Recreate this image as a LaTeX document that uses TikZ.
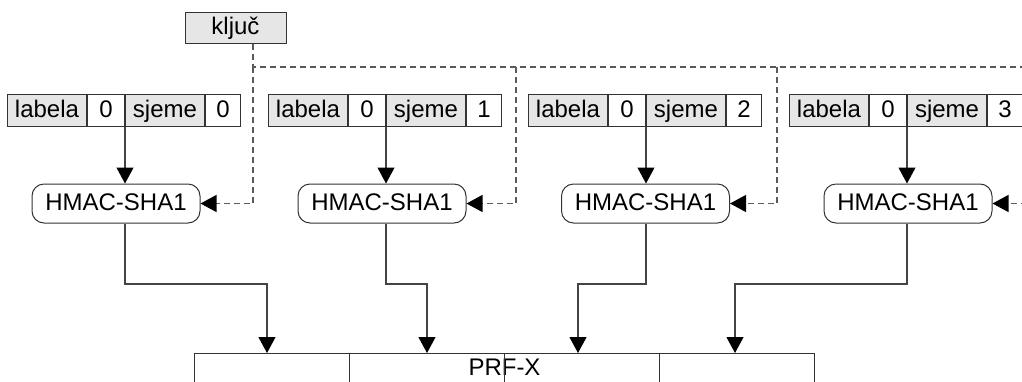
\documentclass[tikz,border=0pt]{standalone}
\usepackage{fontspec}
\setmainfont{Liberation Sans}
\usetikzlibrary{arrows.meta,calc}

\definecolor{cellfill}{HTML}{E6E6E6}
\definecolor{edge}{HTML}{333333}
\definecolor{wire}{HTML}{444444}
\definecolor{keywire}{HTML}{5A5A5A}

\tikzset{
  txt/.style={font=\fontsize{24}{28}\selectfont, text height=16.5pt, text depth=3pt},
  cell/.style={txt, draw=edge, line width=1pt, inner sep=0pt,
               minimum height=32pt, anchor=north west},
  cellg/.style={cell, fill=cellfill},
  cellw/.style={cell, fill=white},
  hmac/.style={txt, draw=edge, line width=1pt, rounded corners=12pt,
               minimum width=168pt, minimum height=39pt, inner sep=0pt},
  tip/.style={-{Triangle[length=16pt 0 0,width=17pt 0 0,color=black]}},
  conn/.style={draw=wire, line width=1.1pt, tip},
  keyconn/.style={draw=keywire, line width=1.2pt, dash pattern=on 6pt off 4pt},
}

\begin{document}
\begin{tikzpicture}[x=1pt,y=-1pt]
  \useasboundingbox (0,0) rectangle (1022,381);
  \clip (0,0) rectangle (1022,381);

  % key
  \node[txt, draw=edge, fill=cellfill, line width=1pt, inner sep=0pt,
        minimum width=101pt, minimum height=31pt] (kljuc) at (235.5,27.5) {ključ};

  % input records: labela | 0 | sjeme | n
  \foreach \i/\L/\d in {1/7/0, 2/268/1, 3/528/2, 4/789/3} {
    \node[cellg, minimum width=79pt] (lab\i) at (\L,94) {labela};
    \node[cellw, minimum width=37pt] (z\i) at (lab\i.north east) {0};
    \node[cellg, minimum width=79pt] (sj\i) at (z\i.north east) {sjeme};
    \node[cellw, minimum width=35pt] (d\i) at (sj\i.north east) {\d};
  }

  % HMAC blocks
  \node[hmac] (h1) at (116,203.5) {HMAC-SHA1};
  \node[hmac] (h2) at (382,203.5) {HMAC-SHA1};
  \node[hmac] (h3) at (645.5,203.5) {HMAC-SHA1};
  \node[hmac] (h4) at (908,203.5) {HMAC-SHA1};

  % output block
  \node[draw=edge, line width=1pt, minimum width=620pt, minimum height=80pt,
        inner sep=0pt, anchor=north west,
        label={[txt, inner sep=0pt, anchor=north, yshift=-6pt]north:PRF-X}]
        (prf) at (194,353) {};
  \draw[edge, line width=1pt]
    ($(prf.north west)!0.25!(prf.north east)$) -- ($(prf.south west)!0.25!(prf.south east)$)
    (prf.north) -- (prf.south)
    ($(prf.north west)!0.75!(prf.north east)$) -- ($(prf.south west)!0.75!(prf.south east)$);

  % records into HMAC
  \foreach \i in {1,...,4}
    \draw[conn] (sj\i.south west) -- (sj\i.south west |- h\i.north);

  % HMAC outputs into PRF-X
  \coordinate (t1) at (267,284);
  \coordinate (t2) at (427,284);
  \coordinate (t3) at (578,284);
  \coordinate (t4) at (735,284);
  \foreach \i in {1,...,4}
    \draw[conn] (h\i.south -| sj\i.south west) |- (t\i) -- (t\i |- prf.north);

  % key distribution
  \coordinate (j1) at (253,67);
  \coordinate (j2) at (516,67);
  \coordinate (j3) at (777,67);
  \coordinate (j4) at (1040,67);
  \draw[keyconn] (kljuc.south -| j1) -- (j1) -- (j4);
  \foreach \i in {1,...,4}
    \draw[keyconn, tip] (j\i) |- (h\i.east);
\end{tikzpicture}
\end{document}
